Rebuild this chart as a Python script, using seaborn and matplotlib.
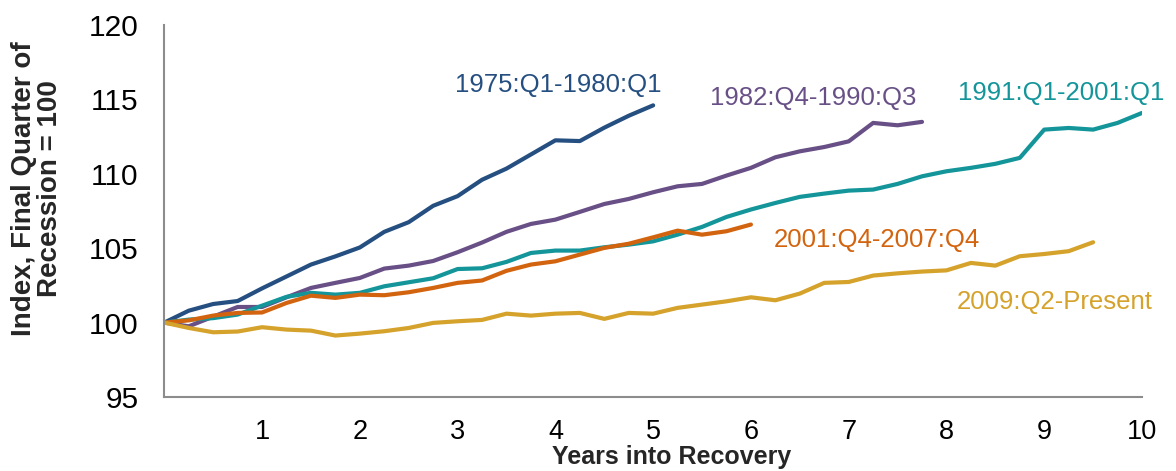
import numpy as np
import pandas as pd
import matplotlib
matplotlib.use("Agg")
import matplotlib.pyplot as plt
import seaborn as sns

# ---- data (quarterly index values, final quarter of recession = 100) ----
periods = ["1975:Q1-1980:Q1", "1982:Q4-1990:Q3", "1991:Q1-2001:Q1",
           "2001:Q4-2007:Q4", "2009:Q2-Present"]

s1975 = [100, 100.8, 101.25, 101.45, 102.3, 103.1, 103.9, 104.45, 105.05, 106.1,
         106.75, 107.85, 108.5, 109.6, 110.35, 111.3, 112.25, 112.2, 113.1, 113.9,
         114.6]
s1982 = [100, 99.75, 100.4, 101.05, 101.05, 101.7, 102.33, 102.67, 103.0, 103.63,
         103.83, 104.14, 104.73, 105.38, 106.1, 106.63, 106.92, 107.44, 107.97,
         108.31, 108.76, 109.16, 109.32, 109.88, 110.4, 111.11, 111.51, 111.8,
         112.18, 113.42, 113.26, 113.49]
s1991 = [100, 100.2, 100.3, 100.54, 101.14, 101.73, 102.0, 101.88, 102.0, 102.44,
         102.71, 102.98, 103.6, 103.65, 104.08, 104.68, 104.84, 104.84, 105.06,
         105.24, 105.46, 105.91, 106.43, 107.1, 107.6, 108.04, 108.45, 108.67,
         108.87, 108.94, 109.32, 109.83, 110.17, 110.4, 110.67, 111.07, 112.97,
         113.08, 112.97, 113.42, 114.09]
s2001 = [100, 100.15, 100.47, 100.65, 100.68, 101.32, 101.81, 101.66, 101.88,
         101.84, 102.04, 102.33, 102.67, 102.83, 103.48, 103.9, 104.12, 104.57,
         105.02, 105.3, 105.73, 106.18, 105.91, 106.14, 106.59]
s2009 = [100, 99.64, 99.35, 99.4, 99.69, 99.53, 99.46, 99.13, 99.26, 99.42, 99.64,
         99.98, 100.09, 100.18, 100.6, 100.47, 100.6, 100.65, 100.25, 100.65, 100.6,
         100.99, 101.21, 101.43, 101.7, 101.5, 101.95, 102.67, 102.73, 103.16,
         103.31, 103.43, 103.51, 104.01, 103.83, 104.46, 104.61, 104.8, 105.4]

series = [s1975, s1982, s1991, s2001, s2009]
colors = ["#254F80", "#685087", "#13959A", "#D3640F", "#D5A22C"]

x_ticks = list(range(0, 11))
x_tick_labels = [""] + [str(i) for i in range(1, 11)]
y_ticks = [95, 100, 105, 110, 115, 120]

# label anchor positions (data coords, left edge / vertical centre)
label_x = [2.97, 5.58, 8.12, 6.23, 8.11]
label_y = [116.0, 115.12, 115.46, 105.58, 101.41]

# ---- build long-form frame ----
rows = []
for name, vals in zip(periods, series):
    for q, v in enumerate(vals):
        rows.append({"period": name, "years": q / 4.0, "index": v})
df = pd.DataFrame(rows)

sns.set_theme(style="white")
plt.rcParams["font.family"] = ["Liberation Sans", "DejaVu Sans"]

fig = plt.figure(figsize=(11.76, 4.71), dpi=100)
ax = fig.add_axes([164.3 / 1176, 1 - 397 / 471, (1142 - 164.3) / 1176, (397 - 25) / 471])

sns.lineplot(data=df, x="years", y="index", hue="period", hue_order=periods,
             palette=dict(zip(periods, colors)), linewidth=3.0, legend=False,
             sort=False, ax=ax)

ax.set_xlim(0, 10)
ax.set_ylim(95, 120)
ax.set_xticks(x_ticks)
ax.set_xticklabels(x_tick_labels)
ax.set_yticks(y_ticks)
ax.set_yticklabels([str(t) for t in y_ticks])

for sp in ["top", "right"]:
    ax.spines[sp].set_visible(False)
for sp in ["left", "bottom"]:
    ax.spines[sp].set_color("#8c8c8c")
    ax.spines[sp].set_linewidth(1.5)

ax.tick_params(axis="both", which="major", direction="out", length=5.5, width=1.5,
               color="#8c8c8c", labelcolor="black")
ax.tick_params(axis="y", labelsize=21.5, pad=13)
ax.tick_params(axis="x", labelsize=19.5, pad=10)
ax.set_xlabel("Years into Recovery", fontsize=18, fontweight="bold")
ax.xaxis.set_label_coords(0.519, -0.128)
ax.set_ylabel("Index, Final Quarter of\nRecession = 100", fontsize=20,
              fontweight="bold", linespacing=1.0)
ax.yaxis.set_label_coords(-0.104, 0.56)

for name, c, lx, ly in zip(periods, colors, label_x, label_y):
    ax.text(lx, ly, name, color=c, fontsize=18.5, ha="left", va="center",
            clip_on=False)

fig.savefig("out.png", dpi=100)
